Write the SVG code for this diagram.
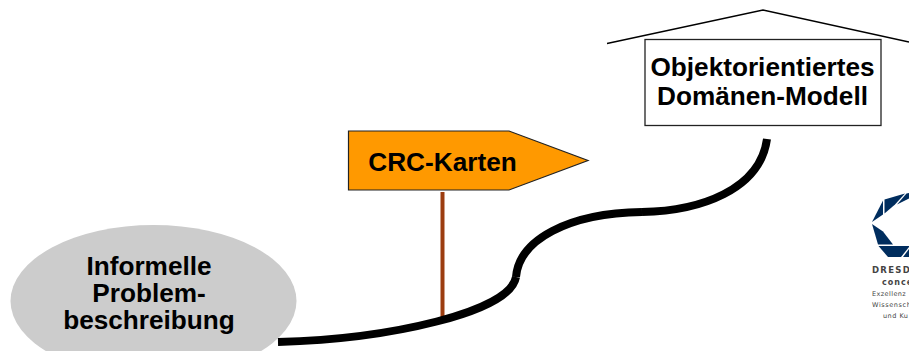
<svg xmlns="http://www.w3.org/2000/svg" width="909" height="351" viewBox="0 0 909 351">
<style>
.t{font-family:"Liberation Sans",Arial,sans-serif;font-weight:700;font-size:26.200px;fill:#000;text-anchor:middle}
.c{fill:none;stroke:#000;stroke-width:8}
.r{fill:none;stroke:#000;stroke-width:1.3}
.l{fill:#002d5e}
.s{font-family:"DejaVu Sans",sans-serif;fill:#444}
</style>
<rect width="909" height="351" fill="#fff"/>
<g id="problem">
<ellipse cx="153.500" cy="301" rx="143" ry="76" fill="#cccccc"/>
<text class="t" x="149" y="275">Informelle</text>
<text class="t" x="149" y="302">Problem-</text>
<text class="t" x="149" y="329">beschreibung</text>
</g>
<g id="connectors">
<line x1="442.500" y1="192" x2="442.500" y2="320" stroke="#9c3d10" stroke-width="4"/>
<path class="c" d="M278 342C390 339 510 312 516 277"/>
<path class="c" d="M516 277C519 240 568 213 642 212"/>
<path class="c" d="M642 212C700 211 760 190 767 139"/>
</g>
<g id="roof">
<path class="r" d="M607 43.500L763 10L909 42"/>
</g>
<g id="domain">
<rect x="645" y="39.500" width="236" height="86" fill="#fff" stroke="#222" stroke-width="1.300"/>
<text class="t" x="762.500" y="76">Objektorientiertes</text>
<text class="t" x="762.500" y="105">Domänen-Modell</text>
</g>
<g id="crc">
<path d="M348.500 131H509L588 160.500L509 190H348.500Z" fill="#ff9900" stroke="#222" stroke-width="1.200"/>
<text class="t" x="442.500" y="171">CRC-Karten</text>
</g>
<g id="logo">
<path class="l" d="M884.500 199.500L905 193.500L895 204.500L884.500 213.500Z"/>
<path class="l" d="M906.500 193.500L909 193V198.500L897 204.500Z"/>
<path class="l" d="M883 200.500V214.500L872 222Z"/>
<path class="l" d="M872 224L883 231.500L893 244.500H878Z"/>
<path class="l" d="M878.500 246H909V247L901 257H888Z"/>
<path class="l" d="M903 257L909 249V257Z"/>
<text class="s" x="872" y="273" font-size="8.500" font-weight="700" letter-spacing="1.300">DRESD</text>
<text class="s" x="882" y="285" font-size="8" font-weight="700" letter-spacing="1">conce</text>
<text class="s" x="872" y="296" font-size="6.500" letter-spacing=".4">Exzellenz</text>
<text class="s" x="872" y="307" font-size="6.500" letter-spacing=".6">Wissensch</text>
<text class="s" x="883" y="318" font-size="6.500" letter-spacing=".5">und Ku</text>
</g>
</svg>
